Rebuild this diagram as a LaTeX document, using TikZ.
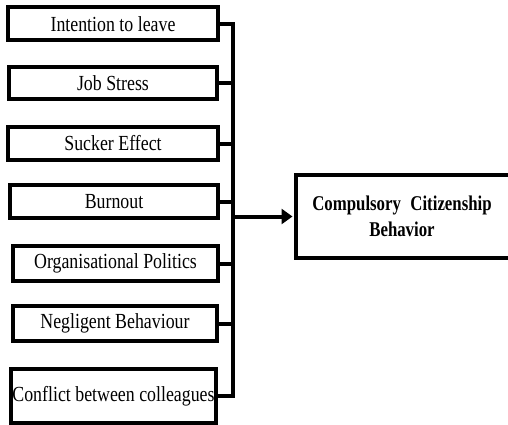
\documentclass[tikz,border=0pt]{standalone}
\usepackage{fontspec}
\usetikzlibrary{arrows.meta}
\newfontfamily\boxfont[FakeStretch=0.83]{Liberation Serif}
\newfontfamily\titlefont[FakeStretch=0.8]{Liberation Serif}
\begin{document}
\begin{tikzpicture}[x=1pt,y=-1pt,
  factor/.style={draw=black,line width=4pt,fill=white,inner sep=0pt,
    font=\boxfont\fontsize{21.5}{26}\selectfont},
  outcome/.style={draw=black,line width=4pt,fill=white,inner sep=0pt,
    align=center,font=\titlefont\bfseries\fontsize{21}{26}\selectfont},
  conn/.style={draw=black,line width=4pt,line join=miter}]
  \useasboundingbox (0,0) rectangle (508,425);

  % left column of factors
  \node[factor,minimum width=210pt,minimum height=32.5pt] (b1) at (113,23.75) {Intention to leave};
  \node[factor,minimum width=208pt,minimum height=32pt]   (b2) at (113,83)    {Job Stress};
  \node[factor,minimum width=210pt,minimum height=33pt]   (b3) at (113,143.5) {Sucker Effect};
  \node[factor,minimum width=208pt,minimum height=33pt]   (b4) at (114,201.5) {Burnout};
  \node[factor,minimum width=205pt,minimum height=35pt]   (b5) at (115.5,263.5) {Organisational Politics};
  \node[factor,minimum width=204pt,minimum height=35pt]   (b6) at (115,323.5) {Negligent Behaviour};
  \node[factor,minimum width=205pt,minimum height=54pt]   (b7) at (113.5,396) {Conflict between colleagues};

  % outcome box (runs off the right edge)
  \node[outcome,minimum width=215pt,minimum height=83pt] (ccb) at (403.5,216.5) {};
  \node[align=center,font=\titlefont\bfseries\fontsize{21}{26}\selectfont] (ccbtext) at (402,216.5)
    {Compulsory\hspace{0.45em}Citizenship\\Behavior};

  % collecting bus
  \coordinate (bus) at (232.5,0);
  \draw[conn] (b1.east) -- (b1.east -| bus) -- (b7.east -| bus) -- (b7.east);
  \foreach \b in {b2,b3,b4,b5,b6}
    \draw[conn] (\b.east) -- (\b.east -| bus);

  % arrow to the outcome
  \draw[conn,-{Triangle[length=11pt,width=15pt]},shorten >=1.5pt] (ccb.west -| bus) -- (ccb.west);
\end{tikzpicture}
\end{document}
